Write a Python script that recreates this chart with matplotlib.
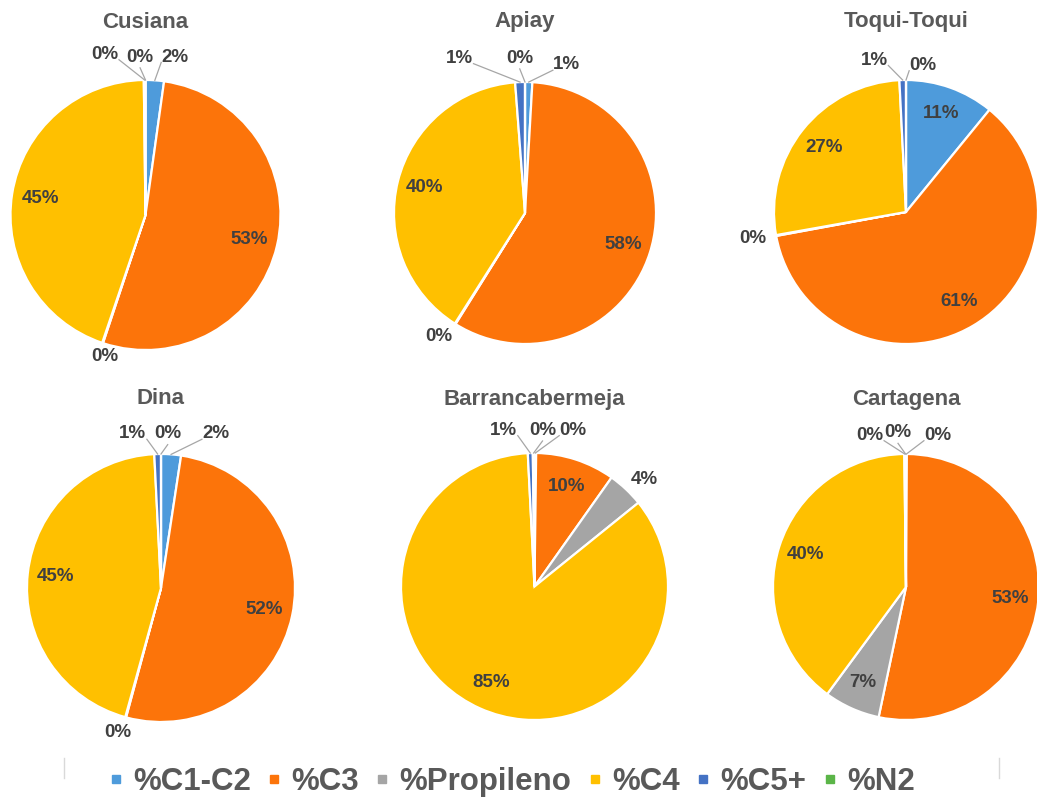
import matplotlib
matplotlib.use("Agg")
import numpy as np
import matplotlib.pyplot as plt
from matplotlib.lines import Line2D

plt.rcParams['font.family'] = ['Liberation Sans', 'DejaVu Sans']

# Gas composition by field (percent of each component)
components = ["%C1-C2", "%C3", "%Propileno", "%C4", "%C5+", "%N2"]
colors = ["#4E9BDB", "#FC740A", "#A5A5A5", "#FFC000", "#4472C4", "#5BB548"]

fields = ["Cusiana", "Apiay", "Toqui-Toqui", "Dina", "Barrancabermeja", "Cartagena"]
cusiana = [2.2, 52.9, 0.1, 44.6, 0.2, 0.0]
apiay = [0.9, 58.0, 0.1, 39.8, 1.2, 0.0]
toqui_toqui = [10.9, 61.2, 0.1, 27.0, 0.8, 0.0]
dina = [2.4, 51.8, 0.1, 44.9, 0.8, 0.0]
barrancabermeja = [0.2, 9.6, 4.4, 85.0, 0.6, 0.2]
cartagena = [0.1, 53.2, 6.8, 39.7, 0.1, 0.1]
series = [cusiana, apiay, toqui_toqui, dina, barrancabermeja, cartagena]

# ---- layout (pixels on a 1037x800 canvas) ----
W, H = 1037, 800
pie_boxes = [(145.5, 215, 135), (525, 213, 131), (906, 212, 132),
             (161, 588, 134), (534.5, 586.5, 133.5), (906, 587, 133)]
title_rows = [22, 22, 22, 399, 399, 399]

# labels of thin slices placed outside the pie (radius units, per chart)
outside = [
    {0: (0.22, 1.17), 2: (-0.30, -1.05), 4: (-0.30, 1.19), 5: (-0.04, 1.17)},
    {0: (0.32, 1.13), 2: (-0.66, -0.94), 4: (-0.50, 1.18), 5: (-0.04, 1.18)},
    {2: (-1.16, -0.20), 4: (-0.24, 1.15), 5: (0.13, 1.11)},
    {0: (0.41, 1.15), 2: (-0.32, -1.08), 4: (-0.21, 1.15), 5: (0.05, 1.15)},
    {0: (0.29, 1.17), 2: (0.82, 0.80), 4: (-0.23, 1.17), 5: (0.06, 1.17)},
    {0: (0.24, 1.14), 4: (-0.27, 1.14), 5: (-0.06, 1.16)},
]

label_color = "#404040"
title_color = "#595959"
leader_color = "#A6A6A6"

fig = plt.figure(figsize=(W / 100, H / 100), dpi=100)
fig.patch.set_facecolor("white")

for k, (name, vals) in enumerate(zip(fields, series)):
    cx, cy, r = pie_boxes[k]
    ax = fig.add_axes([(cx - r) / W, 1 - (cy + r) / H, 2 * r / W, 2 * r / H])
    wedges, _ = ax.pie(vals, colors=colors, startangle=90, counterclock=False,
                       radius=1.0,
                       wedgeprops=dict(edgecolor="white", linewidth=1.6))
    ax.set_xlim(-1, 1)
    ax.set_ylim(-1, 1)
    ax.set_aspect("equal")
    ax.axis("off")

    total = float(np.sum(vals))
    hw = 14.0 / r  # half width of a short label, radius units
    for i, w in enumerate(wedges):
        pct = vals[i] / total * 100
        text = f"{pct:.0f}%"
        theta = np.deg2rad((w.theta1 + w.theta2) / 2)
        px, py = np.cos(theta), np.sin(theta)
        if i in outside[k]:
            lx, ly = outside[k][i]
            if ly > 1.05:
                if px < lx - hw:
                    sx, sy = lx - hw, ly - 0.04
                elif px > lx + hw:
                    sx, sy = lx + hw, ly - 0.04
                else:
                    sx, sy = lx, ly - 0.08
                ax.plot([sx, px], [sy, py], color=leader_color, lw=0.9,
                        clip_on=False, zorder=1)
        else:
            lx, ly = 0.79 * px, 0.79 * py
        ax.text(lx, ly, text, ha="center", va="center", fontsize=13.5,
                fontweight="bold", color=label_color, clip_on=False, zorder=5)

    fig.text(cx / W, 1 - title_rows[k] / H, name, ha="center", va="center",
             fontsize=16, fontweight="bold", color=title_color)

# shared legend along the bottom
handles = [Line2D([], [], marker="s", linestyle="none", markersize=6,
                  markerfacecolor=c, markeredgecolor=c) for c in colors]
fig.legend(handles, components, loc="center",
           bbox_to_anchor=(512 / W, 1 - 782 / H), ncol=6, frameon=False,
           prop=dict(size=22.5, weight="bold"), labelcolor=title_color,
           handlelength=0.4, handletextpad=0.35, columnspacing=0.55,
           borderpad=0, borderaxespad=0)

# faint chart-area edge marks
for xe in (64, 999):
    fig.add_artist(Line2D([xe / W, xe / W], [1 - 758 / H, 1 - 778 / H],
                          transform=fig.transFigure, color="#D9D9D9", lw=1))

fig.savefig("out.png", dpi=100, facecolor="white")
